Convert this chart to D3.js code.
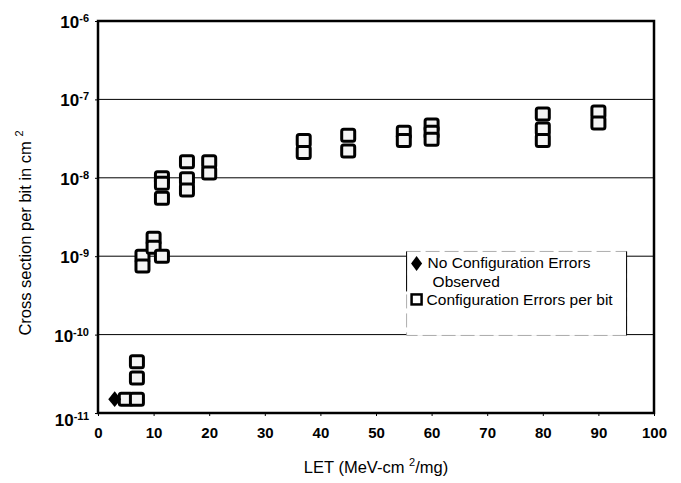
<!DOCTYPE html>
<html>
<head>
<meta charset="utf-8">
<script src="https://cdn.jsdelivr.net/npm/d3@7"></script>
<style>
  body { margin: 0; background: #fff; }
  svg { font-family: "Liberation Sans", Arial, sans-serif; }
</style>
</head>
<body>
<svg id="chart" width="681" height="483"></svg>
<script>
// LET values (MeV-cm2/mg) and cross sections (cm2 per bit)
const noErrLET = [3];
const noErrSigma = [1.5e-11];

const errLET = [5, 7, 7, 7, 8, 8, 10, 10, 11.5, 11.5, 11.5, 11.5,
  16, 16, 16, 20, 20, 37, 37, 45, 45, 55, 55, 60, 60, 60, 80, 80, 80, 90, 90];
const errSigma = [1.5e-11, 1.5e-11, 2.8e-11, 4.5e-11, 1e-9, 7.5e-10, 1.7e-9, 1.3e-9,
  1e-9, 1e-8, 8.5e-9, 5.5e-9,
  1.6e-8, 9.7e-9, 7e-9, 1.6e-8, 1.15e-8, 3e-8, 2.1e-8, 3.5e-8, 2.2e-8,
  3.8e-8, 3e-8, 4.7e-8, 3.8e-8, 3.1e-8, 6.5e-8, 4.2e-8, 3e-8, 6.9e-8, 5e-8];

const xTicks = d3.range(0, 101, 10);
const yExponents = [-6, -7, -8, -9, -10, -11];
const legendLabels = [["No Configuration Errors", "Observed"], ["Configuration Errors per bit"]];

const margin = { top: 21, right: 27, bottom: 70, left: 98 };
const width = 681 - margin.left - margin.right;
const height = 483 - margin.top - margin.bottom;

const svg = d3.select("#chart");
const g = svg.append("g").attr("transform", `translate(${margin.left},${margin.top})`);

const x = d3.scaleLinear().domain([0, 100]).range([0, width]);
const y = d3.scaleLog().domain([1e-11, 1e-6]).range([height, 0]);

// gridlines
g.selectAll(".grid")
  .data(yExponents.slice(1, -1))
  .enter().append("line")
  .attr("x1", 0).attr("x2", width)
  .attr("y1", d => y(Math.pow(10, d))).attr("y2", d => y(Math.pow(10, d)))
  .attr("stroke", "#000").attr("stroke-width", 1);

// x axis
const xAxis = g.append("g")
  .attr("transform", `translate(0,${height})`)
  .call(d3.axisBottom(x).tickValues(xTicks).tickSize(3).tickFormat(d3.format("d")));
xAxis.select(".domain").remove();
xAxis.selectAll("line").attr("stroke", "#000");
xAxis.selectAll("text")
  .attr("dy", "1.25em")
  .style("font-size", "15px")
  .style("font-weight", "bold")
  .attr("fill", "#000");

// y axis
const yAxis = g.append("g")
  .call(d3.axisLeft(y).tickValues(yExponents.map(e => Math.pow(10, e))).tickSize(3).tickFormat(""));
yAxis.select(".domain").remove();
yAxis.selectAll("line").attr("stroke", "#000");

const yLab = g.selectAll(".ylab")
  .data(yExponents)
  .enter().append("text")
  .attr("x", -9)
  .attr("y", d => y(Math.pow(10, d)) + (d === -11 ? 13 : 7))
  .attr("text-anchor", "end")
  .style("font-size", "17px")
  .style("font-weight", "bold")
  .attr("fill", "#000");
yLab.append("tspan").text("10");
yLab.append("tspan").attr("dy", "-0.55em").style("font-size", "11px").text(d => String(d));

// frame
g.append("rect")
  .attr("width", width).attr("height", height)
  .attr("fill", "none").attr("stroke", "#000").attr("stroke-width", 2.5);

// legend box
const lw = 220, lh = 84;
const lg = g.append("g").attr("transform", `translate(${x(55.5)},${y(1.15e-9)})`);
lg.append("rect")
  .attr("width", lw).attr("height", lh)
  .attr("fill", "#fff").attr("stroke", "#999").attr("stroke-width", 0.8)
  .attr("stroke-dasharray", "14,5");
lg.append("line").attr("x1", 0).attr("x2", 0).attr("y1", 0).attr("y2", 40)
  .attr("stroke", "#000").attr("stroke-width", 1);
lg.append("line").attr("x1", lw).attr("x2", lw).attr("y1", 0).attr("y2", lh)
  .attr("stroke", "#000").attr("stroke-width", 1);
lg.append("path")
  .attr("d", d3.symbol().type(d3.symbolDiamond).size(80)())
  .attr("transform", "translate(10,12) scale(1.15,0.9)")
  .attr("fill", "#000");
lg.append("rect")
  .attr("x", 5).attr("y", 43).attr("width", 10).attr("height", 10)
  .attr("fill", "#fff").attr("stroke", "#000").attr("stroke-width", 2.5);
lg.append("text")
  .attr("y", 17)
  .style("font-size", "15.5px").attr("fill", "#000")
  .selectAll("tspan").data(legendLabels[0]).enter().append("tspan")
  .attr("x", (d, i) => i ? 26 : 21).attr("dy", (d, i) => i ? 19 : 0).text(d => d);
lg.append("text")
  .attr("x", 20).attr("y", 54)
  .style("font-size", "15.5px").attr("fill", "#000")
  .text(legendLabels[1][0]);

// square markers
const sq = { w: 13, h: 12 };
g.selectAll(".sq")
  .data(errLET.map((d, i) => [d, errSigma[i]]))
  .enter().append("rect")
  .attr("x", d => x(d[0]) - sq.w / 2)
  .attr("y", d => y(d[1]) - sq.h / 2)
  .attr("width", sq.w).attr("height", sq.h)
  .attr("rx", 2)
  .attr("fill", "#f4f4f4").attr("stroke", "#000").attr("stroke-width", 3);

// diamond markers
g.selectAll(".dm")
  .data(noErrLET.map((d, i) => [d, noErrSigma[i]]))
  .enter().append("path")
  .attr("d", d3.symbol().type(d3.symbolDiamond).size(100)())
  .attr("transform", d => `translate(${x(d[0])},${y(d[1])}) scale(1.2,0.85)`)
  .attr("fill", "#000");

// axis titles
svg.append("text")
  .attr("x", margin.left + width / 2).attr("y", 473)
  .attr("text-anchor", "middle")
  .style("font-size", "16.5px").attr("fill", "#000")
  .html('LET (MeV-cm <tspan dy="-7" font-size="11">2</tspan><tspan dy="7">/mg)</tspan>');

svg.append("text")
  .attr("transform", "translate(31,233) rotate(-90)")
  .attr("text-anchor", "middle")
  .style("font-size", "16.5px").attr("fill", "#000")
  .html('Cross section per bit in cm <tspan dy="-8" font-size="11">2</tspan>');
</script>
</body>
</html>
